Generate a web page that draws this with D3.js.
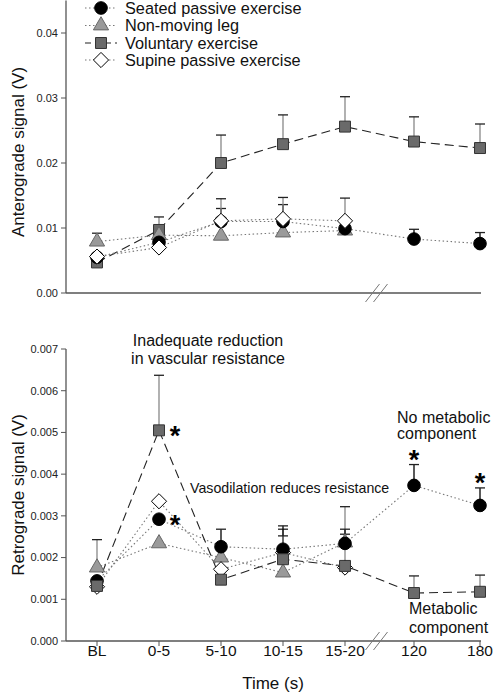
<!DOCTYPE html>
<html><head><meta charset="utf-8">
<script src="https://cdn.jsdelivr.net/npm/d3@7"></script>
<style>body{margin:0;background:#fff;}svg{display:block;font-family:"Liberation Sans",Arial,sans-serif;}</style>
</head><body>
<script>
// ---- data ----
const categories = ["BL","0-5","5-10","10-15","15-20","120","180"];
const seriesNames = ["Seated passive exercise","Non-moving leg","Voluntary exercise","Supine passive exercise"];

// Anterograde (top panel)
const antSeated    = [0.0055, 0.0078, 0.0110, 0.0110, 0.0099, 0.0083, 0.0076];
const antSeatedSE  = [null,   null,   0.0020, 0.0026, null,   0.0015, 0.0017];
const antNonMoving = [0.0079, 0.0089, 0.0088, 0.0093, 0.0096, null, null];
const antNonMovSE  = [0.0013, null,   null,   null,   null,   null, null];
const antVoluntary = [0.0047, 0.0097, 0.0200, 0.0229, 0.0256, 0.0233, 0.0223];
const antVolSE     = [null,   0.0020, 0.0043, 0.0045, 0.0046, 0.0038, 0.0037];
const antSupine    = [0.0056, 0.0070, 0.0111, 0.0114, 0.0111, null, null];
const antSupSE     = [null,   null,   0.0034, 0.0033, 0.0035, null, null];

// Retrograde (bottom panel)
const retSeated    = [0.00144, 0.00292, 0.00226, 0.00220, 0.00234, 0.00373, 0.00325];
const retSeatedSE  = [null,    null,    0.00042, 0.00056, 0.00034, 0.00050, 0.00042];
const retNonMoving = [0.00176, 0.00234, 0.00200, 0.00164, 0.00236, null, null];
const retNonMovSE  = [0.00067, null,    null,    null,    0.00086, null, null];
const retVoluntary = [0.00132, 0.00505, 0.00147, 0.00196, 0.00180, 0.00115, 0.00118];
const retVolSE     = [null,    0.00132, null,    0.00056, null,    0.00041, 0.00040];
const retSupine    = [0.00130, 0.00335, 0.00172, 0.00212, 0.00176, null, null];
const retSupSE     = [null,    null,    null,    0.00056, 0.00080, null, null];

const antTicks = [0, 0.01, 0.02, 0.03, 0.04];
const retTicks = [0, 0.001, 0.002, 0.003, 0.004, 0.005, 0.006, 0.007];

// ---- layout ----
const W = 494, H = 694;
const svg = d3.select("body").append("svg").attr("width", W).attr("height", H);

// x scale with axis break between 15-20 and 120
const x = d3.scaleLinear().domain([-0.5, 0, 4, 5, 6]).range([66, 97, 345, 414, 480]);
const xEnd = 481;

const diamond = { draw(ctx, size) { const r = Math.sqrt(size / 2); ctx.moveTo(0, -r); ctx.lineTo(r, 0); ctx.lineTo(0, r); ctx.lineTo(-r, 0); ctx.closePath(); } };

const styles = [
  {shape: d3.symbolCircle,   size: 125, fill: "#000",    stroke: "#000", dash: "1.5,2.5", line: "#777", stem: "#000"},
  {shape: d3.symbolTriangle, size: 100, fill: "#9a9a9a", stroke: "#666", dash: "1.5,2.5", line: "#777", stem: "#888"},
  {shape: d3.symbolSquare,   size: 120, fill: "#6a6a6a", stroke: "#333", dash: "9,5",     line: "#222", stem: "#888"},
  {shape: diamond,           size: 115, fill: "#fff",    stroke: "#000", dash: "1.5,2.5", line: "#777", stem: "#888"}
];

function panel(y, ticks, fmt, series, ses, order, title, titleY, showX) {
  const g = svg.append("g");
  const yr = y.range();
  g.append("line").attr("x1", 66).attr("x2", 66).attr("y1", yr[0]).attr("y2", yr[1]).attr("stroke", "#555").attr("stroke-width", 1.3);
  ticks.forEach(t => {
    g.append("line").attr("x1", 61).attr("x2", 66).attr("y1", y(t)).attr("y2", y(t)).attr("stroke", "#555");
    g.append("text").attr("x", 58).attr("y", y(t)).attr("dy", "0.35em").attr("text-anchor", "end")
      .attr("font-size", 11).attr("fill", "#222").text(fmt(t));
  });
  g.append("line").attr("x1", 66).attr("x2", xEnd).attr("y1", yr[0]).attr("y2", yr[0]).attr("stroke", "#555").attr("stroke-width", 1.3);
  const bx = (x(4) + x(5)) / 2 - 2;
  [-5, 3].forEach(o => {
    g.append("line").attr("x1", bx + o - 7).attr("x2", bx + o + 7).attr("y1", yr[0] + 9).attr("y2", yr[0] - 9)
      .attr("stroke", "#777").attr("stroke-width", 1);
  });
  if (showX) {
    categories.forEach((c, i) => {
      g.append("line").attr("x1", x(i)).attr("x2", x(i)).attr("y1", yr[0]).attr("y2", yr[0] + 5).attr("stroke", "#555");
      g.append("text").attr("x", x(i)).attr("y", yr[0] + 15).attr("text-anchor", "middle").attr("font-size", 15.5).attr("fill", "#111").text(c);
    });
  }
  g.append("text").attr("transform", `translate(24,${titleY}) rotate(-90)`).attr("text-anchor", "middle")
    .attr("font-size", 17).attr("fill", "#111").text(title);

  order.forEach(s => {
    const st = styles[s];
    const pts = series[s].map((v, i) => [i, v]).filter(d => d[1] != null);
    g.append("path").attr("d", d3.line().x(d => x(d[0])).y(d => y(d[1]))(pts))
      .attr("fill", "none").attr("stroke", st.line).attr("stroke-width", 1.1).attr("stroke-dasharray", st.dash);
  });
  order.forEach(s => {
    const st = styles[s];
    series[s].forEach((v, i) => {
      const se = ses[s][i];
      if (v == null || se == null) return;
      g.append("line").attr("x1", x(i)).attr("x2", x(i)).attr("y1", y(v)).attr("y2", y(v + se)).attr("stroke", st.stem).attr("stroke-width", 1.3);
      g.append("line").attr("x1", x(i) - 5).attr("x2", x(i) + 5).attr("y1", y(v + se)).attr("y2", y(v + se)).attr("stroke", "#222").attr("stroke-width", 1.3);
    });
  });
  order.forEach(s => {
    const st = styles[s];
    series[s].forEach((v, i) => {
      if (v == null) return;
      g.append("path").attr("d", d3.symbol().type(st.shape).size(st.size)())
        .attr("transform", `translate(${x(i)},${y(v)})`)
        .attr("fill", st.fill).attr("stroke", st.stroke).attr("stroke-width", 1);
    });
  });
  return g;
}

const yTop = d3.scaleLinear().domain([0, 0.045]).range([293, 0.5]);
const yBot = d3.scaleLinear().domain([0, 0.007]).range([641, 349]);

panel(yTop, antTicks, d3.format(".2f"),
  [antSeated, antNonMoving, antVoluntary, antSupine],
  [antSeatedSE, antNonMovSE, antVolSE, antSupSE],
  [2, 1, 0, 3], "Anterograde signal (V)", 152, false);

panel(yBot, retTicks, d3.format(".3f"),
  [retSeated, retNonMoving, retVoluntary, retSupine],
  [retSeatedSE, retNonMovSE, retVolSE, retSupSE],
  [1, 3, 0, 2], "Retrograde signal (V)", 495, true);

svg.append("text").attr("x", 273).attr("y", 689).attr("text-anchor", "middle").attr("font-size", 17).attr("fill", "#111").text("Time (s)");

// legend
seriesNames.forEach((n, k) => {
  const st = styles[k];
  const ly = [8, 25.5, 43, 60][k];
  svg.append("line").attr("x1", 85).attr("x2", 117).attr("y1", ly).attr("y2", ly)
    .attr("stroke", st.line).attr("stroke-width", 1.1).attr("stroke-dasharray", k === 2 ? "6,4" : "1.5,2.5");
  svg.append("path").attr("d", d3.symbol().type(st.shape).size(st.size)())
    .attr("transform", `translate(101,${ly})`)
    .attr("fill", st.fill).attr("stroke", st.stroke);
  svg.append("text").attr("x", 125).attr("y", ly).attr("dy", "0.35em").attr("font-size", 16.3).attr("fill", "#111").text(n);
});

// annotations
const ann = [
  {t: "Inadequate reduction", x: 208, y: 346, a: "middle", s: 16},
  {t: "in vascular resistance", x: 208, y: 364, a: "middle", s: 16},
  {t: "No metabolic", x: 397, y: 423, a: "start", s: 16},
  {t: "component", x: 397, y: 439, a: "start", s: 16},
  {t: "Vasodilation reduces resistance", x: 190, y: 493, a: "start", s: 14.2},
  {t: "Metabolic", x: 409, y: 614, a: "start", s: 16},
  {t: "component", x: 409, y: 633, a: "start", s: 16}
];
ann.forEach(d => svg.append("text").attr("x", d.x).attr("y", d.y).attr("text-anchor", d.a)
  .attr("font-size", d.s).attr("fill", "#111").text(d.t));

// significance stars
const stars = [
  {i: 1, v: retVoluntary[1], dx: 16, dy: 9},
  {i: 1, v: retSeated[1], dx: 16, dy: 9},
  {i: 5, v: retSeated[5] + retSeatedSE[5], dx: 0, dy: -2},
  {i: 6, v: retSeated[6] + retSeatedSE[6], dx: 0, dy: -2}
];
stars.forEach(d => svg.append("text").attr("x", x(d.i) + d.dx).attr("y", yBot(d.v) + d.dy + 6)
  .attr("text-anchor", "middle").attr("font-size", 27).attr("font-weight", "bold").attr("fill", "#000").text("*"));
</script>
</body></html>
